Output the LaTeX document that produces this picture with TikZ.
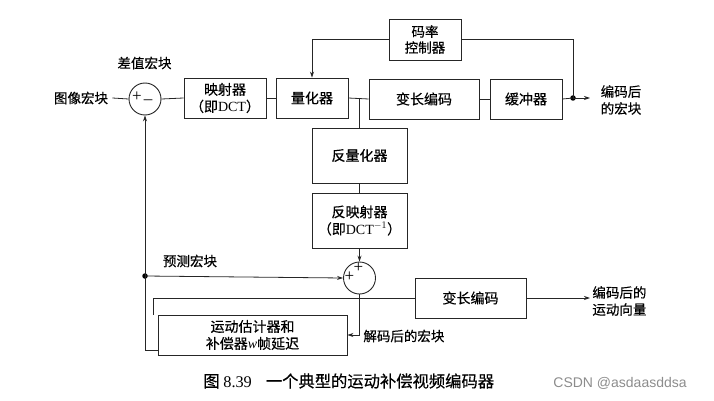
\documentclass[tikz,border=0pt]{standalone}
\usepackage{fontspec}
\newfontfamily\cjk[FakeBold=0.4]{Noto Sans CJK SC}
\newfontfamily\ser{Liberation Serif}
\newfontfamily\sanswm{Liberation Sans}
\usetikzlibrary{arrows.meta,calc}
\begin{document}
\begin{tikzpicture}[x=1pt,y=-1pt,
  line width=0.8pt, draw=black!85,
  blk/.style={draw=black!85, line width=0.9pt, fill=white, align=center, inner sep=0pt,
    font=\cjk\fontsize{14}{17}\selectfont},
  sumc/.style={draw=black!85, line width=0.9pt, circle, minimum size=32pt, inner sep=0pt},
  lbl/.style={font=\cjk\fontsize{13.5}{17}\selectfont, align=left, inner sep=0pt},
  pm/.style={font=\ser\fontsize{17}{17}\selectfont, inner sep=0pt},
  arr/.style={-{Stealth[length=6pt,width=4pt]}},
  dotc/.style={circle, fill=black, inner sep=0pt, minimum size=5.5pt}
]
\useasboundingbox (0,0) rectangle (714,401);

% nodes
\node[lbl] (in) at (81,98) {图像宏块};
\node[lbl] (diff) at (144.5,63) {差值宏块};
\node[sumc] (s1) at (145,99) {};
\node[pm] at (137,97) {+};
\node[pm] at (148,100) {\_};
\node[blk, minimum width=82pt, minimum height=40pt] (map) at (225,98) {映射器\\（即{\ser DCT}）};
\node[blk, minimum width=72pt, minimum height=40pt] (q) at (312,98) {量化器};
\node[blk, minimum width=110pt, minimum height=40pt] (vlc) at (424,99) {变长编码};
\node[blk, minimum width=72pt, minimum height=40pt] (buf) at (526,99) {缓冲器};
\node[blk, minimum width=72pt, minimum height=41pt, font=\cjk\fontsize{13.5}{16}\selectfont] (rate) at (425,39.5) {码率\\控制器};
\node[lbl] (out) at (621,100) {编码后\\的宏块};
\node[dotc] (d1) at (573,98) {};
\coordinate (o1) at (590,98);

\node[blk, minimum width=95pt, minimum height=55pt] (iq) at (359.5,155.5) {反量化器};
\node[blk, minimum width=95pt, minimum height=55pt] (imap) at (359.5,220.5) {反映射器\\（即{\ser DCT}$^{-1}$）};
\coordinate (j1) at (iq.north |- q.east);

\node[sumc] (s2) at (359.5,278) {};
\node[pm] at (358.5,268) {+};
\node[pm] at (349.5,277) {+};
\node[lbl] (pred) at (190,261) {预测宏块};
\node[dotc] (d2) at (145,276) {};
\coordinate (b1) at (145,350);

\node[blk, minimum width=111pt, minimum height=40pt] (mvlc) at (470.5,298) {变长编码};
\coordinate (o2) at (590,298);
\node[lbl, anchor=west] (mvout) at (592,301) {编码后的\\运动向量};

\node[blk, minimum width=189pt, minimum height=40pt] (me) at (252.5,335) {运动估计器和\\补偿器{\ser\itshape w}帧延迟};
\node[lbl, anchor=west] (dec) at (363,336) {解码后的宏块};
\coordinate (t1) at (153,315);

\node[font=\cjk\fontsize{16.3}{18}\selectfont, inner sep=0pt, anchor=west] (cap) at (203,381) {图 {\ser 8.39}\hspace{14pt}一个典型的运动补偿视频编码器};
\node[font=\sanswm\fontsize{14}{17}\selectfont, text=black!45, inner sep=0pt, anchor=west] (wm) at (553,383) {CSDN @asdaasddsa};

% connectors
\draw (in.east) ++(4,0) -- (s1.west);
\draw (s1.east) -- (map.west);
\draw (map.east) -- (q.west);
\draw (q.east) -- (vlc.west);
\draw (j1) -- (iq.north);
\draw (vlc.east) -- (buf.west);
\draw (buf.east) -- (d1.center);
\draw[arr] (d1.center) -- (o1);
\draw (rate.east) -| (d1.center);
\draw[arr] (rate.west) -| (q.north);
\draw (iq.south) -- (imap.north);
\draw[arr] (imap.south) -- (s2.north);
\draw[arr] (d2.center) -- (s2.west);
\draw[arr] (b1) -- (s1.south);
\draw (b1) -- (me.west |- b1);
\draw (mvlc.west) -| (t1);
\draw[arr] (s2.south) |- (me.east);
\draw[arr] (mvlc.east) -- (o2);
\end{tikzpicture}
\end{document}
